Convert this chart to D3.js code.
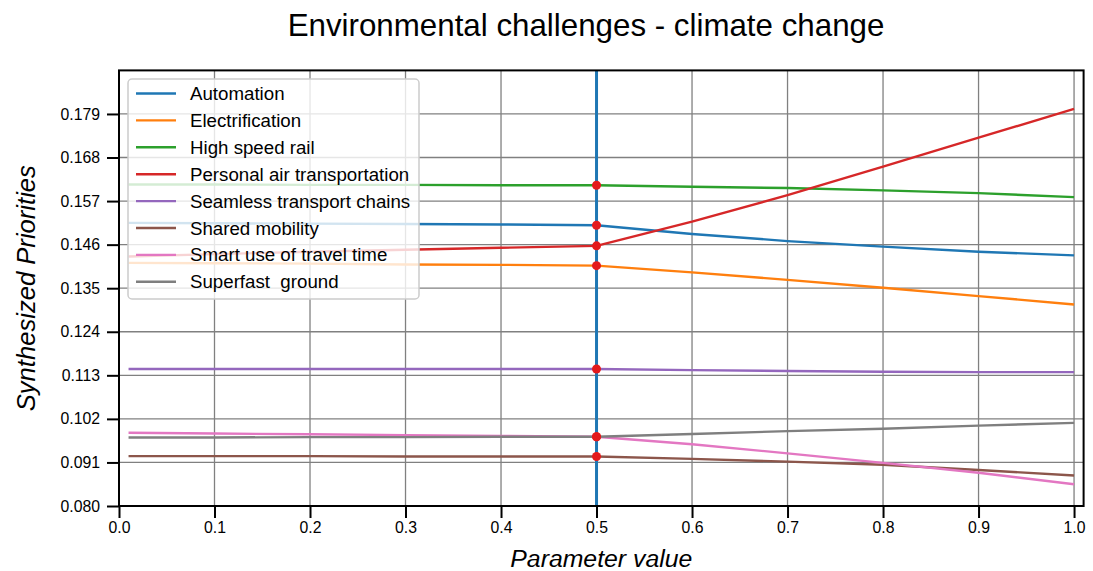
<!DOCTYPE html>
<html>
<head>
<meta charset="utf-8">
<script src="https://cdn.jsdelivr.net/npm/d3@7"></script>
<style>
  html, body { margin: 0; padding: 0; background: #fff; }
  svg { display: block; font-family: "Liberation Sans", Arial, sans-serif; }
</style>
</head>
<body>
<svg id="chart" width="1093" height="571"></svg>
<script>
// Parameter sweep positions
const paramValues = [0.01, 0.1, 0.2, 0.3, 0.4, 0.5, 0.6, 0.7, 0.8, 0.9, 1.0];

// Synthesized priority of each alternative along the sweep
const automation        = [0.1515, 0.1514, 0.1513, 0.1512, 0.1511, 0.1509, 0.1487, 0.1469, 0.1455, 0.1442, 0.1433];
const electrification   = [0.1414, 0.1413, 0.1412, 0.1410, 0.1409, 0.1407, 0.1390, 0.1371, 0.1351, 0.1330, 0.1309];
const highSpeedRail     = [0.1612, 0.1612, 0.1611, 0.1611, 0.1610, 0.1610, 0.1606, 0.1603, 0.1597, 0.1590, 0.1580];
const personalAir       = [0.1430, 0.1436, 0.1442, 0.1447, 0.1452, 0.1457, 0.1518, 0.1585, 0.1657, 0.1730, 0.1803];
const seamlessChains    = [0.1146, 0.1146, 0.1146, 0.1146, 0.1146, 0.1146, 0.1143, 0.1141, 0.1139, 0.1138, 0.1138];
const sharedMobility    = [0.0926, 0.0926, 0.0926, 0.0925, 0.0925, 0.0925, 0.0919, 0.0912, 0.0904, 0.0891, 0.0877];
const smartTravelTime   = [0.0985, 0.0983, 0.0981, 0.0979, 0.0977, 0.0975, 0.0956, 0.0933, 0.0909, 0.0884, 0.0855];
const superfastGround   = [0.0973, 0.0973, 0.0974, 0.0974, 0.0975, 0.0975, 0.0982, 0.0989, 0.0995, 0.1003, 0.1010];

const seriesNames = ["Automation", "Electrification", "High speed rail", "Personal air transportation",
                     "Seamless transport chains", "Shared mobility", "Smart use of travel time", "Superfast  ground"];
const seriesValues = [automation, electrification, highSpeedRail, personalAir,
                      seamlessChains, sharedMobility, smartTravelTime, superfastGround];
const seriesColors = ["#1f77b4", "#ff7f0e", "#2ca02c", "#d62728", "#9467bd", "#8c564b", "#e377c2", "#7f7f7f"];

// Current parameter value (vertical marker)
const currentParam = 0.5;

// Axis ticks
const xTicks = [0.0, 0.1, 0.2, 0.3, 0.4, 0.5, 0.6, 0.7, 0.8, 0.9, 1.0];
const yTicks = [0.080, 0.091, 0.102, 0.113, 0.124, 0.135, 0.146, 0.157, 0.168, 0.179];
const xDomain = [0, 1.01];
const yDomain = [0.080, 0.190];

const titleText = "Environmental challenges - climate change";
const xLabel = "Parameter value";
const yLabel = "Synthesized Priorities";

// Layout
const plot = { left: 119, right: 1083.6, top: 70.4, bottom: 506 };

const svg = d3.select("#chart");

const x = d3.scaleLinear().domain(xDomain).range([plot.left, plot.right]);
const y = d3.scaleLinear().domain(yDomain).range([plot.bottom, plot.top]);

// Grid
const grid = svg.append("g").attr("class", "grid");
grid.selectAll("line.gx").data(xTicks).join("line")
  .attr("x1", d => x(d)).attr("x2", d => x(d))
  .attr("y1", plot.top).attr("y2", plot.bottom)
  .attr("stroke", "#808080").attr("stroke-width", 1.3);
grid.selectAll("line.gy").data(yTicks).join("line")
  .attr("x1", plot.left).attr("x2", plot.right)
  .attr("y1", d => y(d)).attr("y2", d => y(d))
  .attr("stroke", "#808080").attr("stroke-width", 1.3);

// Series lines
const line = d3.line()
  .x((d, i) => x(paramValues[i]))
  .y(d => y(d));

svg.append("g").selectAll("path").data(seriesValues).join("path")
  .attr("d", d => line(d))
  .attr("fill", "none")
  .attr("stroke", (d, i) => seriesColors[i])
  .attr("stroke-width", 2.4)
  .attr("stroke-linejoin", "round");

// Vertical marker at the current parameter value
svg.append("line")
  .attr("x1", x(currentParam)).attr("x2", x(currentParam))
  .attr("y1", plot.top).attr("y2", plot.bottom)
  .attr("stroke", "#1f77b4").attr("stroke-width", 3);

// Points where each series meets the current parameter value
const idx = paramValues.indexOf(currentParam);
svg.append("g").selectAll("circle").data(seriesValues).join("circle")
  .attr("cx", x(currentParam))
  .attr("cy", d => y(d[idx]))
  .attr("r", 4.5)
  .attr("fill", "#e41a1c");

// Axes
const xAxis = d3.axisBottom(x).tickValues(xTicks).tickFormat(d3.format(".1f"))
  .tickSize(12).tickPadding(4);
const yAxis = d3.axisLeft(y).tickValues(yTicks).tickFormat(d3.format(".3f"))
  .tickSize(12).tickPadding(7);

const gx = svg.append("g").attr("transform", `translate(0,${plot.bottom})`).call(xAxis);
const gy = svg.append("g").attr("transform", `translate(${plot.left},0)`).call(yAxis);
[gx, gy].forEach(g => {
  g.attr("font-size", null).attr("font-family", null);
  g.select(".domain").remove();
  g.selectAll(".tick line").attr("stroke", "#000").attr("stroke-width", 2);
  g.selectAll(".tick text").attr("fill", "#000")
    .style("font-size", "15.8px")
    .style("font-family", "'Liberation Sans', Arial, sans-serif");
});

// Frame
svg.append("rect")
  .attr("x", plot.left).attr("y", plot.top)
  .attr("width", plot.right - plot.left).attr("height", plot.bottom - plot.top)
  .attr("fill", "none").attr("stroke", "#000").attr("stroke-width", 2);

// Legend
const legend = svg.append("g");
legend.append("rect")
  .attr("x", 128).attr("y", 79).attr("width", 291).attr("height", 220)
  .attr("rx", 4).attr("ry", 4)
  .attr("fill", "#fff").attr("fill-opacity", 0.8)
  .attr("stroke", "#cccccc").attr("stroke-width", 1.5);
const rows = legend.selectAll("g.row").data(seriesNames).join("g")
  .attr("transform", (d, i) => `translate(0,${93.5 + i * 26.9})`);
rows.append("line")
  .attr("x1", 136).attr("x2", 176).attr("y1", 0).attr("y2", 0)
  .attr("stroke", (d, i) => seriesColors[i]).attr("stroke-width", 2.4);
rows.append("text")
  .attr("x", 190).attr("y", 6.5)
  .attr("font-size", 18.7).attr("fill", "#000")
  .attr("xml:space", "preserve")
  .style("white-space", "pre")
  .text(d => d);

// Title and axis labels
svg.append("text")
  .attr("x", 586).attr("y", 36)
  .attr("text-anchor", "middle").attr("font-size", 31.3).attr("fill", "#000")
  .text(titleText);

svg.append("text")
  .attr("x", (plot.left + plot.right) / 2).attr("y", 567)
  .attr("text-anchor", "middle").attr("font-size", 24.8).attr("font-style", "italic").attr("fill", "#000")
  .text(xLabel);

svg.append("text")
  .attr("transform", `translate(35,${(plot.top + plot.bottom) / 2}) rotate(-90)`)
  .attr("text-anchor", "middle").attr("font-size", 25.6).attr("font-style", "italic").attr("fill", "#000")
  .text(yLabel);
</script>
</body>
</html>
